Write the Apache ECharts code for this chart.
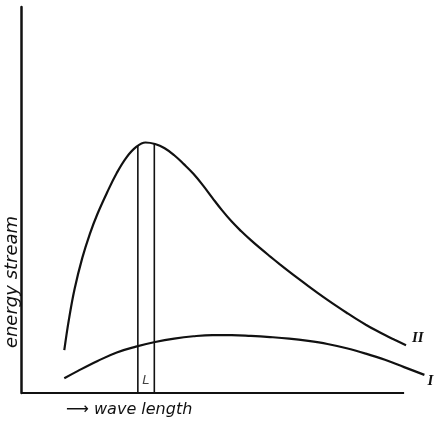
<!DOCTYPE html>
<html><head><meta charset="utf-8">
<script src="https://cdn.jsdelivr.net/npm/echarts@6/dist/echarts.min.js"></script>
<style>html,body{margin:0;padding:0;background:#fff}#c{width:434px;height:422px}</style>
</head><body><div id="c"></div>
<script>
// wavelength (arbitrary units) and energy stream (arbitrary units)
const curveII = [[11.3,11.1],[12.5,19.0],[14,27.0],[16,35.0],[18,41.3],[20,46.5],[22.5,52.0],[25,57.0],[27.5,61.0],[30,63.7],[32.5,64.9],[35,64.5],[37.5,63.4],[40,61.6],[42.5,59.3],[45,56.8],[47.5,53.8],[50,50.5],[52.5,47.3],[55,44.4],[57.5,41.9],[60,39.6],[62.5,37.45],[65,35.4],[67.5,33.4],[70,31.45],[72.5,29.55],[75,27.7],[77.5,25.9],[80,24.15],[82.5,22.45],[85,20.8],[87.5,19.2],[90,17.7],[92.5,16.3],[95,15.0],[97.5,13.8],[100.5,12.4]];
const curveI = [[11.3,3.8],[15,5.8],[20,8.3],[25,10.5],[30,12.0],[35,13.2],[40,14.1],[45,14.7],[50,15.0],[55,15.0],[60,14.8],[65,14.5],[70,14.1],[75,13.5],[80,12.7],[85,11.6],[90,10.2],[95,8.6],[100,6.7],[105.3,4.7]];
const bandEdges = [30.5, 34.8];
const bandTops = [64.0, 64.6];
const baseLine = [[0,0],[100,0]];
const bandLabel = {text: 'L', x: 32.6, y: 3.2};
const seriesNames = ['II', 'I'];
const yTitle = 'energy stream';
const xTitle = '⟶ wave length';

const ink = '#111';
const chart = echarts.init(document.getElementById('c'));
const labelFont = {color:ink, fontFamily:'Liberation Serif', fontStyle:'italic', fontWeight:'bold', fontSize:15};
const series = [
  {type:'line', name:seriesNames[0], data:curveII, smooth:0.4, symbol:'none',
   lineStyle:{color:ink,width:2.2},
   endLabel:Object.assign({show:true, formatter:seriesNames[0], distance:6, offset:[0,-7]}, labelFont)},
  {type:'line', name:seriesNames[1], data:curveI, smooth:0.4, symbol:'none',
   lineStyle:{color:ink,width:2.2},
   endLabel:Object.assign({show:true, formatter:seriesNames[1], distance:3, offset:[0,6]}, labelFont)},
  {type:'line', data:baseLine, symbol:'none', lineStyle:{color:ink,width:2}, silent:true}
];
bandEdges.forEach((x,i)=>{
  series.push({type:'line', data:[[x,0],[x,bandTops[i]]], symbol:'none', lineStyle:{color:ink,width:1.6}, silent:true});
});
series.push({type:'scatter', data:[[bandLabel.x, bandLabel.y]], symbolSize:0,
  label:{show:true, formatter:bandLabel.text, position:'inside', color:ink, fontFamily:'DejaVu Sans', fontStyle:'italic', fontSize:13}});

chart.setOption({
  animation:false,
  backgroundColor:'#fff',
  grid:{left:21, right:5, top:7, bottom:29},
  xAxis:{type:'value', min:0, max:106.5, axisLine:{show:false}, axisTick:{show:false}, axisLabel:{show:false}, splitLine:{show:false}},
  yAxis:{type:'value', min:0, max:100, axisLine:{show:true, lineStyle:{color:ink,width:2.5}}, axisTick:{show:false}, axisLabel:{show:false}, splitLine:{show:false}},
  series: series,
  graphic:[
    {type:'text', x:12, y:282, rotation:Math.PI/2, style:{text:yTitle, textAlign:'center', textVerticalAlign:'middle', fill:ink, font:'italic 18px "DejaVu Sans"'}},
    {type:'text', x:66, y:410, style:{text:xTitle, textAlign:'left', textVerticalAlign:'middle', fill:ink, font:'italic 16px "DejaVu Sans"'}}
  ]
});
</script></body></html>
